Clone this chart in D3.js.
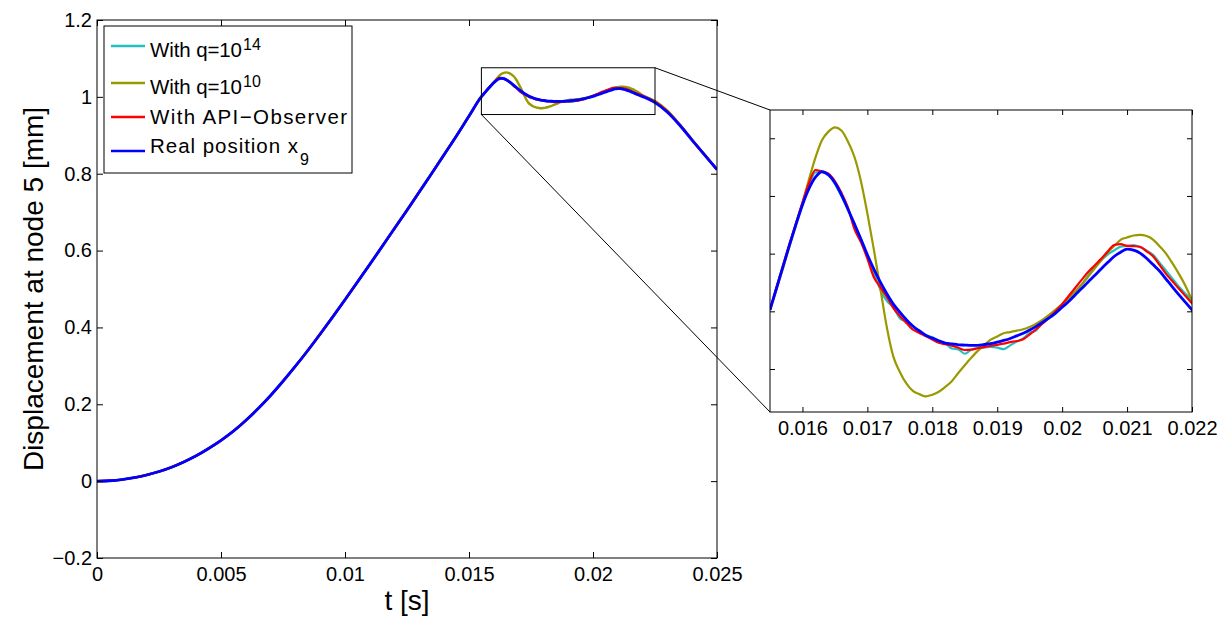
<!DOCTYPE html>
<html><head><meta charset="utf-8">
<script src="https://cdn.jsdelivr.net/npm/d3@7"></script>
<style>body{margin:0;background:#fff} text{font-family:"Liberation Sans",Arial,sans-serif;fill:#000}</style>
</head><body><svg id="c" width="1231" height="621"></svg>
<script>
// ---------- data ----------
const seriesNames = ["With q=10", "With q=10", "With API\u2212Observer", "Real position x"];
const seriesMarks = [["sup","14"], ["sup","10"], null, ["sub","9"]];
const seriesColors = ["#22c0c0", "#999900", "#ff0000", "#0000ff"];

// common rise (all four series coincide)
const tRise = [0,0.0005,0.001,0.0015,0.002,0.0025,0.003,0.0035,0.004,0.0045,0.005,0.0055,0.006,0.0065,0.007,0.0075,0.008,0.0085,0.009,0.0095,0.01,0.0105,0.011,0.0115,0.012,0.0125,0.013,0.0135,0.014,0.0145,0.015];
const vRise = [0,0.001,0.004,0.009,0.016,0.025,0.036,0.050,0.066,0.085,0.106,0.130,0.158,0.189,0.223,0.260,0.299,0.340,0.383,0.427,0.472,0.518,0.564,0.611,0.658,0.705,0.753,0.801,0.850,0.899,0.950];

// zoomed window
const tZoom = [0.0155,0.0156,0.0157,0.0158,0.0159,0.0160,0.0161,0.0162,0.0163,0.0164,0.0165,0.0166,0.0167,0.0168,0.0169,0.0170,0.0171,0.0172,0.0173,0.0174,0.0175,0.0176,0.0177,0.0178,0.0179,0.0180,0.0181,0.0182,0.0183,0.0184,0.0185,0.0186,0.0187,0.0188,0.0189,0.0190,0.0191,0.0192,0.0193,0.0194,0.0195,0.0196,0.0197,0.0198,0.0199,0.0200,0.0201,0.0202,0.0203,0.0204,0.0205,0.0206,0.0207,0.0208,0.0209,0.0210,0.0211,0.0212,0.0213,0.0214,0.0215,0.0216,0.0217,0.0218,0.0219,0.0220];
const cyanZoom = [1.0005,1.0080,1.0155,1.0231,1.0305,1.0375,1.0437,1.0482,1.0483,1.0475,
  1.0442,1.0400,1.0355,1.0304,1.0251,1.0191,1.0131,1.0075,1.0036,1.0014,
  0.9976,0.9963,0.9938,0.9934,0.9914,0.9911,0.9892,0.9889,0.9871,0.9868,
  0.9853,0.9867,0.9873,0.9875,0.9877,0.9874,0.9869,0.9882,0.9895,0.9906,
  0.9925,0.9934,0.9962,0.9981,1.0001,1.0023,1.0046,1.0068,1.0093,1.0124,
  1.0153,1.0176,1.0197,1.0211,1.0224,1.0227,1.0230,1.0222,1.0211,1.0196,
  1.0169,1.0141,1.0113,1.0085,1.0061,1.0039];
const oliveZoom = [1.0005,1.0076,1.0149,1.0225,1.0301,1.0376,1.0457,1.0533,1.0593,1.0623,
  1.0638,1.0627,1.0589,1.0536,1.0452,1.0339,1.0214,1.0079,0.9944,0.9843,
  0.9790,0.9750,0.9724,0.9713,0.9705,0.9711,0.9721,0.9738,0.9758,0.9786,
  0.9813,0.9839,0.9863,0.9883,0.9902,0.9913,0.9924,0.9928,0.9933,0.9938,
  0.9946,0.9957,0.9971,0.9988,1.0006,1.0025,1.0046,1.0068,1.0092,1.0120,
  1.0148,1.0177,1.0204,1.0226,1.0248,1.0256,1.0263,1.0265,1.0261,1.0249,
  1.0226,1.0200,1.0166,1.0129,1.0088,1.0039];
const redZoom = [1.0005,1.0083,1.0159,1.0233,1.0305,1.0377,1.0444,1.0490,1.0485,1.0477,
  1.0451,1.0411,1.0360,1.0286,1.0240,1.0183,1.0118,1.0084,1.0050,1.0011,
  0.9984,0.9960,0.9937,0.9925,0.9914,0.9902,0.9891,0.9886,0.9881,0.9874,
  0.9866,0.9867,0.9872,0.9876,0.9880,0.9884,0.9888,0.9893,0.9897,0.9903,
  0.9920,0.9938,0.9958,0.9978,1.0001,1.0025,1.0053,1.0081,1.0109,1.0136,
  1.0159,1.0182,1.0207,1.0230,1.0233,1.0227,1.0226,1.0224,1.0208,1.0191,
  1.0161,1.0130,1.0104,1.0078,1.0053,1.0028];
const blueZoom = [1.0005,1.0080,1.0155,1.0230,1.0301,1.0369,1.0425,1.0465,1.0484,1.0473,
  1.0446,1.0404,1.0354,1.0303,1.0251,1.0196,1.0146,1.0101,1.0061,1.0025,
  0.9997,0.9971,0.9949,0.9932,0.9917,0.9907,0.9898,0.9890,0.9887,0.9884,
  0.9883,0.9882,0.9882,0.9885,0.9888,0.9893,0.9899,0.9906,0.9915,0.9924,
  0.9935,0.9948,0.9962,0.9977,0.9994,1.0014,1.0034,1.0057,1.0079,1.0102,
  1.0124,1.0147,1.0169,1.0190,1.0205,1.0216,1.0212,1.0202,1.0184,1.0162,
  1.0140,1.0112,1.0084,1.0057,1.0031,1.0005];

// tail after the zoom window
const tTail = [0.0225,0.023,0.0235,0.024,0.0245,0.025];
const cyanTail = [0.988,0.963,0.927,0.888,0.849,0.811];
const oliveTail = [0.989,0.964,0.928,0.888,0.849,0.811];
const redTail = [0.987,0.962,0.927,0.888,0.849,0.811];
const blueTail = [0.985,0.960,0.926,0.887,0.849,0.811];

// ticks
const xTicks = [0,0.005,0.01,0.015,0.02,0.025];
const yTicks = [-0.2,0,0.2,0.4,0.6,0.8,1,1.2];
const xTicksZoom = [0.016,0.017,0.018,0.019,0.02,0.021,0.022];
const yTicksZoom = [0.98,1.0,1.02,1.04,1.06];
const zoomBox = {t0:0.0155, t1:0.0225, v0:0.954, v1:1.0757};
const xLabel = "t [s]";
const yLabel = "Displacement at node 5 [mm]";

// ---------- build ----------
const zoomSets = [cyanZoom, oliveZoom, redZoom, blueZoom];
const tailSets = [cyanTail, oliveTail, redTail, blueTail];
const series = zoomSets.map((z,i)=>{
  const pts = [];
  tRise.forEach((t,j)=>pts.push([t, vRise[j]]));
  tZoom.forEach((t,j)=>pts.push([t, z[j]]));
  tTail.forEach((t,j)=>pts.push([t, tailSets[i][j]]));
  return {name:seriesNames[i], mark:seriesMarks[i], color:seriesColors[i], pts,
          zoom:tZoom.map((t,j)=>[t,z[j]]).concat([[tTail[0], tailSets[i][0]]])};
});

const svg = d3.select('#c');
const M = {l:97, r:717, t:20, b:558};
const I = {l:770, r:1192, t:110, b:412};
const x = d3.scaleLinear().domain([0,0.025]).range([M.l,M.r]);
const y = d3.scaleLinear().domain([-0.2,1.2]).range([M.b,M.t]);
const xi = d3.scaleLinear().domain([0.0155,0.022]).range([I.l,I.r]);
const yi = d3.scaleLinear().domain([0.9651,1.0698]).range([I.b,I.t]);
const fmt = d => d===0 ? "0" : String(+d.toFixed(4)).replace("-", "\u2212");

const defs = svg.append('defs');
defs.append('clipPath').attr('id','cm').append('rect').attr('x',M.l).attr('y',M.t).attr('width',M.r-M.l).attr('height',M.b-M.t);
defs.append('clipPath').attr('id','ci').append('rect').attr('x',I.l).attr('y',I.t).attr('width',I.r-I.l).attr('height',I.b-I.t);

function axes(g, sx, sy, L, xt, yt, tick, labelsY){
  g.append('g').attr('transform',`translate(0,${L.b})`)
    .call(d3.axisBottom(sx).tickValues(xt).tickSizeInner(-tick).tickSizeOuter(0).tickPadding(9).tickFormat(fmt));
  g.append('g').attr('transform',`translate(0,${L.t})`)
    .call(d3.axisTop(sx).tickValues(xt).tickSizeInner(-tick).tickSizeOuter(0).tickFormat(''));
  g.append('g').attr('transform',`translate(${L.l},0)`)
    .call(d3.axisLeft(sy).tickValues(yt).tickSizeInner(-tick).tickSizeOuter(0).tickPadding(5).tickFormat(labelsY?fmt:''));
  g.append('g').attr('transform',`translate(${L.r},0)`)
    .call(d3.axisRight(sy).tickValues(yt).tickSizeInner(-tick).tickSizeOuter(0).tickFormat(''));
  g.selectAll('.domain').remove();
  g.selectAll('.tick line').attr('stroke','#000').attr('stroke-width',1);
  g.selectAll('.tick text').attr('font-size',20).attr('font-family','"Liberation Sans",Arial,sans-serif').attr('fill','#000');
  g.append('rect').attr('x',L.l).attr('y',L.t).attr('width',L.r-L.l).attr('height',L.b-L.t)
    .attr('fill','none').attr('stroke','#000').attr('stroke-width',1);
}

// main
svg.append('rect').attr('x',M.l).attr('y',M.t).attr('width',M.r-M.l).attr('height',M.b-M.t).attr('fill','#fff');
const lineM = d3.line().x(d=>x(d[0])).y(d=>y(d[1])).curve(d3.curveMonotoneX);
const gm = svg.append('g').attr('clip-path','url(#cm)');
series.forEach((s,i)=>{
  gm.append('path').attr('d',lineM(s.pts)).attr('fill','none').attr('stroke',s.color)
    .attr('stroke-width', i===3?2.8:2.4).attr('stroke-linejoin','round');
});
axes(svg.append('g'), x, y, M, xTicks, yTicks, 6, true);

// zoom rectangle + connectors
svg.append('rect').attr('x',x(zoomBox.t0)).attr('y',y(zoomBox.v1))
  .attr('width',x(zoomBox.t1)-x(zoomBox.t0)).attr('height',y(zoomBox.v0)-y(zoomBox.v1))
  .attr('fill','none').attr('stroke','#000').attr('stroke-width',1);
svg.append('line').attr('x1',x(zoomBox.t1)).attr('y1',y(zoomBox.v1)).attr('x2',I.l).attr('y2',I.t).attr('stroke','#000').attr('stroke-width',1);
svg.append('line').attr('x1',x(zoomBox.t0)).attr('y1',y(zoomBox.v0)).attr('x2',I.l).attr('y2',I.b).attr('stroke','#000').attr('stroke-width',1);

// inset
svg.append('rect').attr('x',I.l).attr('y',I.t).attr('width',I.r-I.l).attr('height',I.b-I.t).attr('fill','#fff');
const lineI = d3.line().x(d=>xi(d[0])).y(d=>yi(d[1])).curve(d3.curveMonotoneX);
const gi = svg.append('g').attr('clip-path','url(#ci)');
series.forEach((s,i)=>{
  gi.append('path').attr('d',lineI(s.zoom)).attr('fill','none').attr('stroke',s.color)
    .attr('stroke-width', i===3?2.8:2.2).attr('stroke-linejoin','round');
});
axes(svg.append('g'), xi, yi, I, xTicksZoom, yTicksZoom, 5, false);

// axis labels
svg.append('text').attr('x',(M.l+M.r)/2).attr('y',610).attr('text-anchor','middle').attr('font-size',28).text(xLabel);
svg.append('text').attr('transform',`translate(43,${(M.t+M.b)/2}) rotate(-90)`).attr('text-anchor','middle').attr('font-size',28).text(yLabel);

// legend
const lg = svg.append('g');
lg.append('rect').attr('x',104).attr('y',26).attr('width',248).attr('height',147).attr('fill','#fff').attr('stroke','#000').attr('stroke-width',1);
const lineYs = [46, 83, 117, 151];
const baseYs = [57.3, 94, 124, 152.7];
const textLens = [92, 92, 197, 148];
series.forEach((s,i)=>{
  lg.append('line').attr('x1',111).attr('x2',145).attr('y1',lineYs[i]).attr('y2',lineYs[i]).attr('stroke',s.color).attr('stroke-width',2.4);
  lg.append('text').attr('x',150).attr('y',baseYs[i]).attr('font-size',20.5)
    .attr('textLength',textLens[i]).attr('lengthAdjust','spacing').text(s.name);
  if (s.mark) {
    const sup = s.mark[0]==='sup';
    lg.append('text').attr('x',150+textLens[i]+(sup?1:2)).attr('y',baseYs[i]+(sup?-7:12))
      .attr('font-size',16).text(s.mark[1]);
  }
});
</script></body></html>
